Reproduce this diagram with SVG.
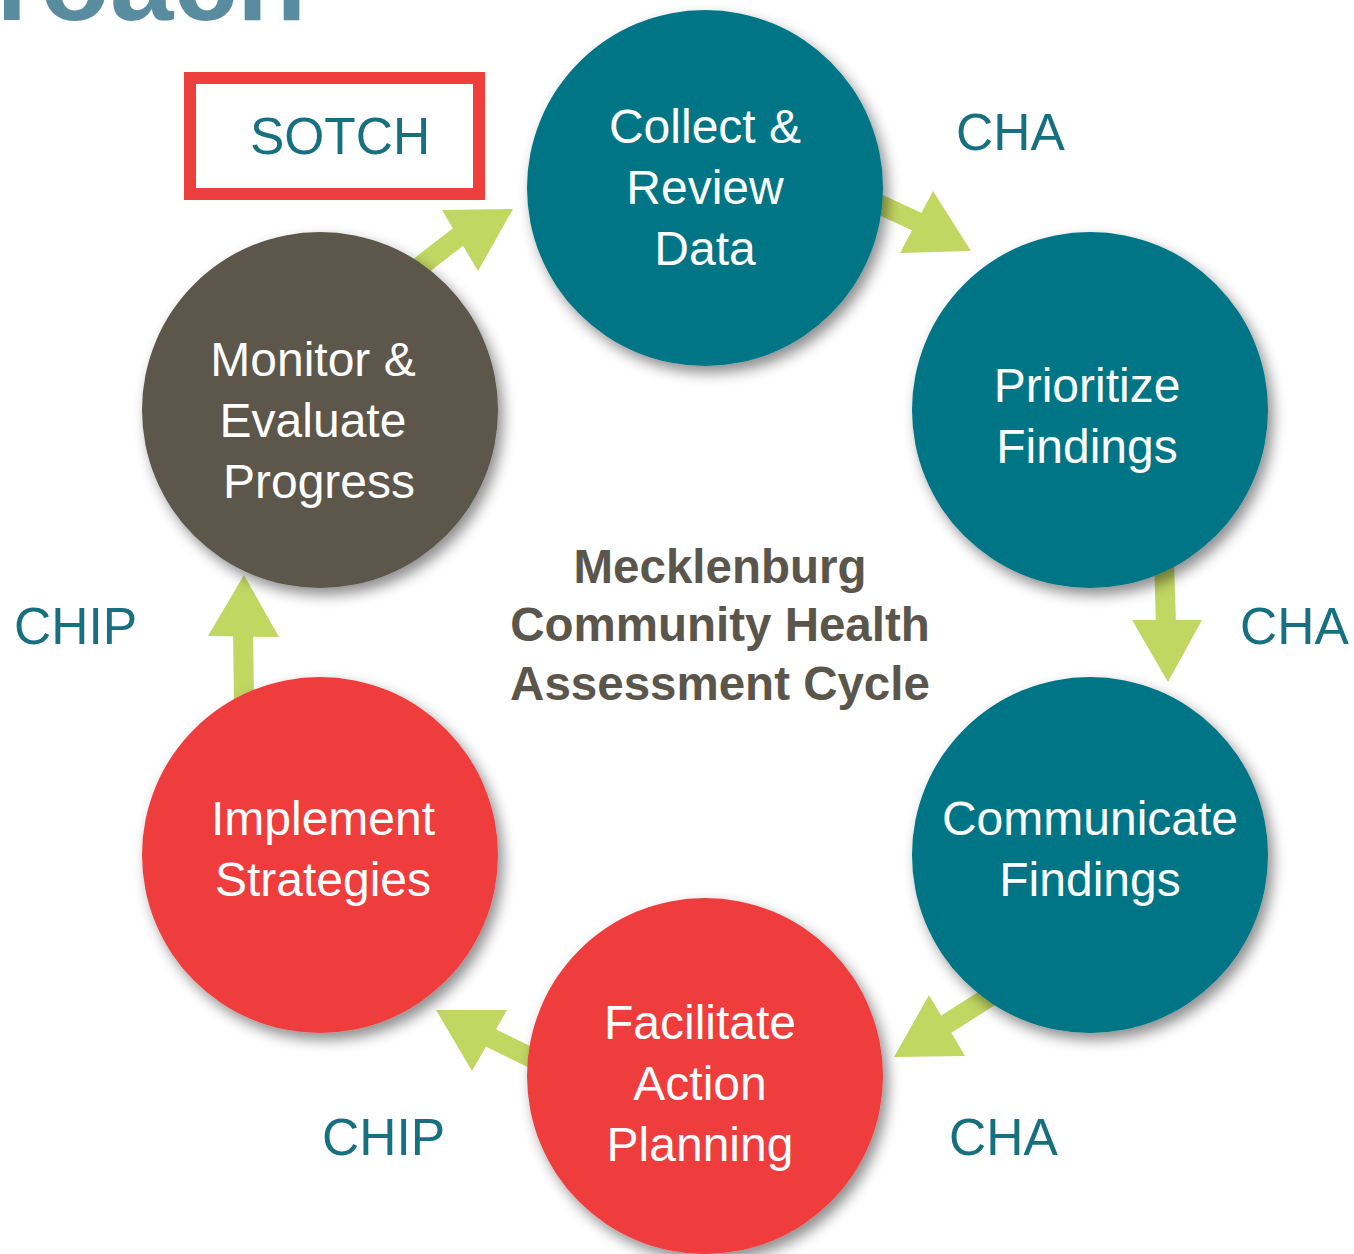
<svg xmlns="http://www.w3.org/2000/svg" width="1354" height="1254" viewBox="0 0 1354 1254">
<defs>
<filter id="sh" x="-20%" y="-20%" width="140%" height="140%">
<feDropShadow dx="5" dy="7" stdDeviation="7" flood-color="#000" flood-opacity="0.45"/>
</filter>
<style>
.node text{font-family:"Liberation Sans",Arial,sans-serif;font-size:48px;fill:#fff;text-anchor:middle}
.teal{fill:#017486}
.red{fill:#ef3e3e}
.gray{fill:#5b564b}
.lbl{font-family:"Liberation Sans",Arial,sans-serif;font-size:51.5px;fill:#17707f}
.title{font-family:"Liberation Sans",Arial,sans-serif;font-size:47.5px;font-weight:bold;fill:#5b564b;text-anchor:middle}
.shaft{stroke:#c2d662;stroke-width:20;fill:none}
.head{fill:#c2d662}
</style>
</defs>
<rect width="1354" height="1254" fill="#fff"/>
<text x="-4" y="20" font-family="Liberation Sans,Arial,sans-serif" font-weight="bold" font-size="114" fill="#5a8ca0">roach</text>

<g id="connectors">
<line class="shaft" x1="405" y1="278" x2="462" y2="234"/>
<polygon class="head" points="442,210 513,209 478,271"/>
<line class="shaft" x1="870" y1="200" x2="922" y2="224"/>
<polygon class="head" points="933,191 900,253 971,251"/>
<line class="shaft" x1="1164" y1="560" x2="1166" y2="625"/>
<polygon class="head" points="1132,620 1202,620 1168,682"/>
<line class="shaft" x1="1000" y1="990" x2="945" y2="1025"/>
<polygon class="head" points="929,995 894,1057 965,1056"/>
<line class="shaft" x1="540" y1="1062" x2="485" y2="1035"/>
<polygon class="head" points="436,1010 507,1010 472,1071"/>
<line class="shaft" x1="244" y1="700" x2="243" y2="630"/>
<polygon class="head" points="244,575 208,636 279,637"/>
</g>

<g id="sotch">
<rect x="190" y="78" width="289" height="116" fill="none" stroke="#ef3e3e" stroke-width="12"/>
<text class="lbl" x="340" y="154" text-anchor="middle">SOTCH</text>
</g>

<g id="collect" class="node">
<circle class="teal" cx="705" cy="188" r="178" filter="url(#sh)"/>
<text x="705" y="143">Collect &amp;</text>
<text x="705" y="204">Review</text>
<text x="705" y="265">Data</text>
</g>
<g id="prioritize" class="node">
<circle class="teal" cx="1090" cy="410" r="178" filter="url(#sh)"/>
<text x="1087" y="402">Prioritize</text>
<text x="1087" y="463">Findings</text>
</g>
<g id="communicate" class="node">
<circle class="teal" cx="1090" cy="855" r="178" filter="url(#sh)"/>
<text x="1090" y="835">Communicate</text>
<text x="1090" y="896">Findings</text>
</g>
<g id="facilitate" class="node">
<circle class="red" cx="705" cy="1076" r="178" filter="url(#sh)"/>
<text x="700" y="1039">Facilitate</text>
<text x="700" y="1100">Action</text>
<text x="700" y="1161">Planning</text>
</g>
<g id="implement" class="node">
<circle class="red" cx="320" cy="855" r="178" filter="url(#sh)"/>
<text x="323" y="835">Implement</text>
<text x="323" y="896">Strategies</text>
</g>
<g id="monitor" class="node">
<circle class="gray" cx="320" cy="410" r="178" filter="url(#sh)"/>
<text x="313" y="376">Monitor &amp;</text>
<text x="313" y="437">Evaluate</text>
<text x="319" y="498">Progress</text>
</g>

<g id="title">
<text class="title" x="720" y="583">Mecklenburg</text>
<text class="title" x="720" y="641">Community Health</text>
<text class="title" x="720" y="700">Assessment Cycle</text>
</g>

<g id="labels">
<text class="lbl" x="956" y="150">CHA</text>
<text class="lbl" x="1240" y="644">CHA</text>
<text class="lbl" x="14" y="644">CHIP</text>
<text class="lbl" x="322" y="1155">CHIP</text>
<text class="lbl" x="949" y="1155">CHA</text>
</g>
</svg>
